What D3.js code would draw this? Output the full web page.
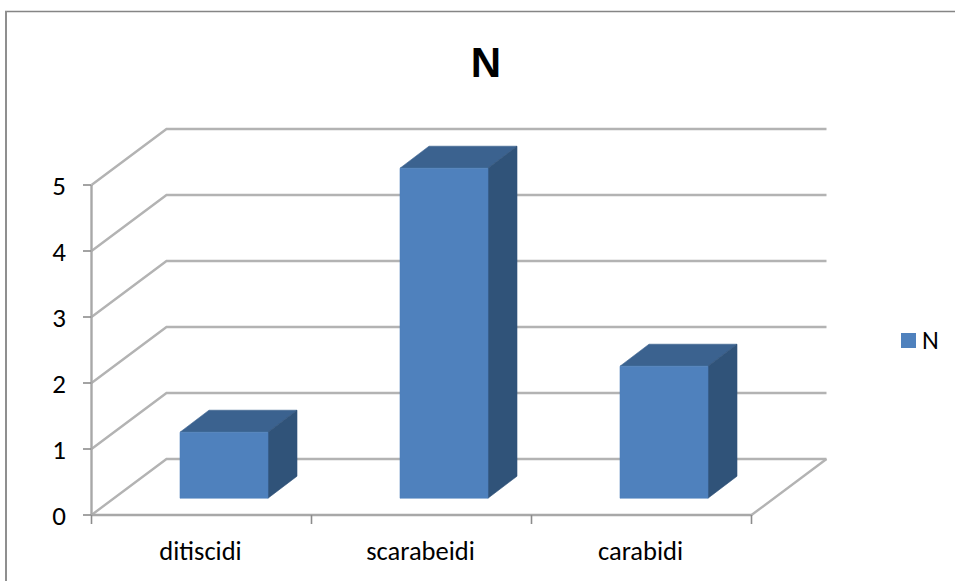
<!DOCTYPE html>
<html><head><meta charset="utf-8">
<script src="https://d3js.org/d3.v7.min.js"></script>
<style>html,body{margin:0;padding:0;background:#fff}svg{display:block}text{font-family:Carlito,Lato,"Open Sans",sans-serif;fill:#000}</style>
</head><body><svg id="c" width="955" height="581"></svg>
<script>
const categories = ["ditiscidi","scarabeidi","carabidi"];
const values = [1,5,2];
const yTicks = [0,1,2,3,4,5];
const seriesName = "N";
const title = "N";

const svg = d3.select("#c");
svg.append("line").attr("x1",5).attr("x2",955).attr("y1",11.5).attr("y2",11.5).attr("stroke","#858585").attr("stroke-width",1.5);
svg.append("line").attr("x1",6).attr("x2",6).attr("y1",11).attr("y2",581).attr("stroke","#8f8f8f").attr("stroke-width",2);

const x = d3.scaleBand().domain(categories).range([91.5,751.5]);
const y = d3.scaleLinear().domain([0,5]).range([515,185]);
const depth = {dx:75, dy:-56};
const grid = "#b3b3b3";

const g = svg.append("g");
yTicks.forEach(t=>{
  const p = d3.path();
  p.moveTo(x.range()[0], y(t));
  p.lineTo(x.range()[0]+depth.dx, y(t)+depth.dy);
  p.lineTo(x.range()[1]+depth.dx, y(t)+depth.dy);
  g.append("path").attr("d",p.toString()).attr("fill","none").attr("stroke",grid).attr("stroke-width",2.4);
});
g.append("line").attr("x1",x.range()[1]).attr("y1",y(0)).attr("x2",x.range()[1]+depth.dx).attr("y2",y(0)+depth.dy).attr("stroke",grid).attr("stroke-width",2.4);
g.append("line").attr("x1",x.range()[0]).attr("x2",x.range()[0]).attr("y1",y(5)).attr("y2",y(0)).attr("stroke","#a8a8a8").attr("stroke-width",2.4);
g.append("line").attr("x1",x.range()[0]).attr("x2",x.range()[1]).attr("y1",y(0)).attr("y2",y(0)).attr("stroke","#a8a8a8").attr("stroke-width",2.4);
yTicks.forEach(t=>{
  g.append("line").attr("x1",83).attr("x2",91).attr("y1",y(t)).attr("y2",y(t)).attr("stroke","#8c8c8c").attr("stroke-width",1.6);
  svg.append("text").attr("x",59).attr("y",y(t)+10).attr("text-anchor","middle").attr("font-size",27).text(t);
});
[...categories.map(c=>x(c)), x.range()[1]].forEach(v=>{
  g.append("line").attr("x1",v).attr("x2",v).attr("y1",y(0)).attr("y2",y(0)+9).attr("stroke","#8c8c8c").attr("stroke-width",1.6);
});
categories.forEach(c=>{
  svg.append("text").attr("x",x(c)+x.bandwidth()/2-1).attr("y",560).attr("text-anchor","middle").attr("font-size",26.5).text(c);
});
const barW = x.bandwidth()*0.4, off = {dx:depth.dx*0.3, dy:depth.dy*0.3}, bd = {dx:29, dy:-22};
categories.forEach((c,i)=>{
  const l = x(c)+(x.bandwidth()-barW)/2+off.dx, r = l+barW;
  const b = y(0)+off.dy, t = y(values[i])+off.dy;
  const poly=(pts,f)=>g.append("polygon").attr("points",pts.map(p=>p.join(",")).join(" ")).attr("fill",f).attr("stroke",f).attr("stroke-width",0.6).attr("stroke-linejoin","round");
  poly([[l,t],[l+bd.dx,t+bd.dy],[r+bd.dx,t+bd.dy],[r,t]],"#3b628f");
  poly([[r,t],[r+bd.dx,t+bd.dy],[r+bd.dx,b+bd.dy],[r,b]],"#305379");
  poly([[l,t],[r,t],[r,b],[l,b]],"#4f81bd");
});
svg.append("text").attr("x",486).attr("y",77).attr("text-anchor","middle").attr("font-size",42).attr("font-weight","bold").style("font-family","'Liberation Sans',sans-serif").text(title);
svg.append("rect").attr("x",901).attr("y",333).attr("width",15).attr("height",15).attr("fill","#4f81bd");
svg.append("text").attr("x",922).attr("y",348.5).attr("font-size",26).text(seriesName);
</script></body></html>
